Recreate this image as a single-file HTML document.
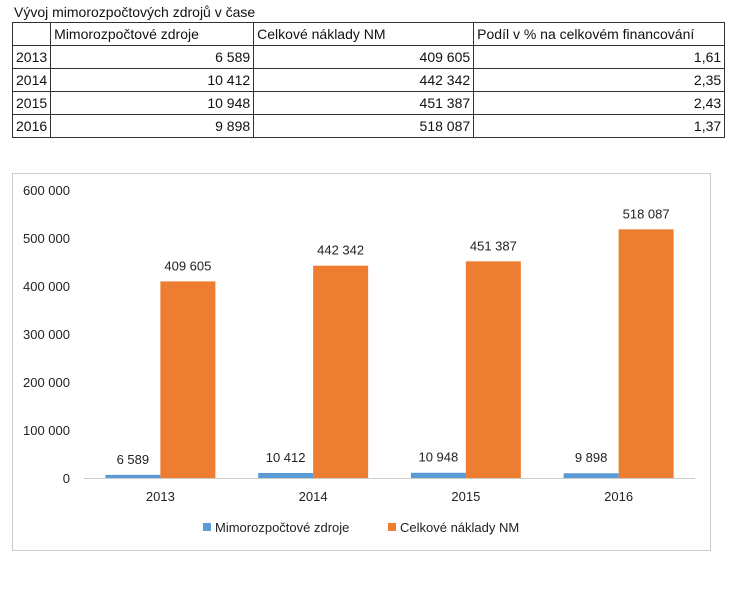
<!DOCTYPE html>
<html><head><meta charset="utf-8"><style>
body{margin:0;width:730px;height:592px;background:#fff;font-family:"Liberation Sans",sans-serif;position:relative;overflow:hidden}
#title{position:absolute;left:14px;top:4px;font-size:14px;color:#111}
table{position:absolute;left:12px;top:22px;border-collapse:collapse;font-size:14px;color:#111}
td{border:1px solid #333;height:22px;padding:0 3px;white-space:nowrap}
td.n{text-align:right}
svg{position:absolute;left:0;top:0}
</style></head><body>
<div id="title">Vývoj mimorozpočtových zdrojů v čase</div>
<table>
<tr><td style="width:21px"></td><td style="width:196px">Mimorozpočtové zdroje</td><td style="width:213px">Celkové náklady NM</td><td style="width:244px">Podíl v % na celkovém financování</td></tr>
<tr><td>2013</td><td class="n">6 589</td><td class="n">409 605</td><td class="n">1,61</td></tr>
<tr><td>2014</td><td class="n">10 412</td><td class="n">442 342</td><td class="n">2,35</td></tr>
<tr><td>2015</td><td class="n">10 948</td><td class="n">451 387</td><td class="n">2,43</td></tr>
<tr><td>2016</td><td class="n">9 898</td><td class="n">518 087</td><td class="n">1,37</td></tr>
</table>
<svg id="chart" width="730" height="592" font-family="Liberation Sans, sans-serif" font-size="13">
<rect x="12.5" y="173.5" width="698" height="377" fill="#fff" stroke="#ccc"/>
</svg>
<script>
const categories=["2013","2014","2015","2016"];
const mimo=[6589,10412,10948,9898];
const celk=[409605,442342,451387,518087];
const ticks=[0,100000,200000,300000,400000,500000,600000];
const labels1=["6 589","10 412","10 948","9 898"];
const labels2=["409 605","442 342","451 387","518 087"];
const svg=document.getElementById('chart');const NS='http://www.w3.org/2000/svg';
const x0=84,x1=695,y0=478,y1=190;
const yS=v=>y0-(v/600000)*(y0-y1);
const band=(x1-x0)/categories.length;
function mk(t,a,txt){const e=document.createElementNS(NS,t);for(const k in a)e.setAttribute(k,a[k]);if(txt!=null)e.textContent=txt;svg.appendChild(e);return e;}
const fmt=v=>String(v).replace(/\B(?=(\d{3})+(?!\d))/g,' ');
ticks.forEach(t=>{const e=mk('text',{x:70,y:yS(t)+5,'text-anchor':'end',fill:'#222'},fmt(t));

});
const ax=mk('line',{x1:x0,x2:x1,y1:y0+0.5,y2:y0+0.5,stroke:'#ccc'});


const bw=55;
categories.forEach((c,i)=>{const cx=x0+band*(i+0.5);
const b1=mk('rect',{x:cx-bw,y:yS(mimo[i]),width:bw,height:y0-yS(mimo[i]),fill:'#5b9bd5'});


const b2=mk('rect',{x:cx,y:yS(celk[i]),width:bw,height:y0-yS(celk[i]),fill:'#ed7d31'});


const l1=mk('text',{x:cx-bw/2,y:yS(mimo[i])-11,'text-anchor':'middle',fill:'#222'},labels1[i]);


const l2=mk('text',{x:cx+bw/2,y:yS(celk[i])-11,'text-anchor':'middle',fill:'#222'},labels2[i]);


const xl=mk('text',{x:cx,y:501,'text-anchor':'middle',fill:'#222'},c);

});
const g1=mk('rect',{x:203,y:523,width:8,height:8,fill:'#5b9bd5'});


const t1=mk('text',{x:215,y:532,fill:'#222'},'Mimorozpočtové zdroje');


const g2=mk('rect',{x:388,y:523,width:8,height:8,fill:'#ed7d31'});


const t2=mk('text',{x:400,y:532,fill:'#222'},'Celkové náklady NM');


</script>
</body></html>
